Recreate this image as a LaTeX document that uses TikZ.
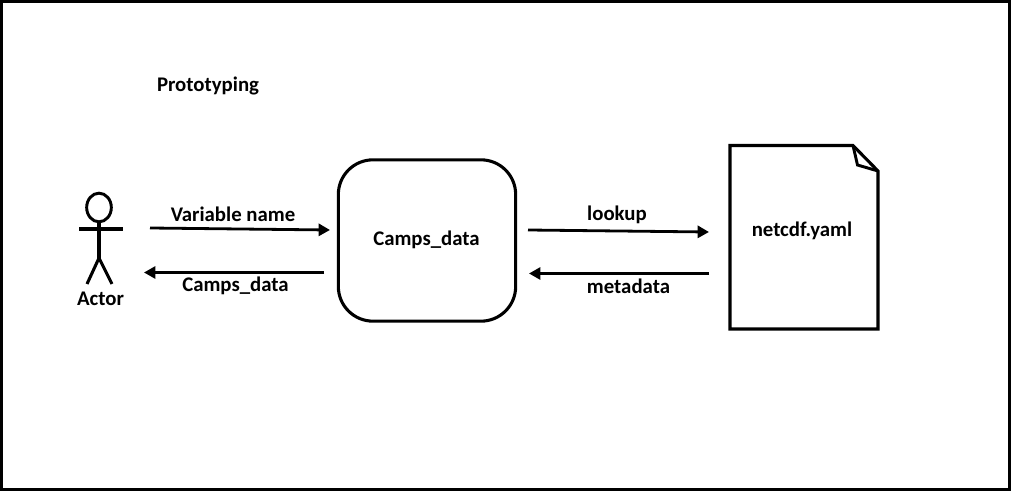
\documentclass[tikz,border=0pt]{standalone}
\usepackage{fontspec}
\setmainfont{Carlito}
\usetikzlibrary{arrows.meta,shapes.geometric}
\tikzset{
  lbl/.style={font=\bfseries\fontsize{15.6}{18}\selectfont,inner sep=0.75pt},
  flow/.style={line width=2.1pt,-{Triangle[length=8.5pt,width=9pt]}},
  stick/.style={line width=2.3pt,line cap=butt},
  outline/.style={line width=2.3pt,line join=miter}
}
\begin{document}
\begin{tikzpicture}[x=0.75pt,y=0.75pt,yscale=-1,xscale=1]
            \useasboundingbox (0,0) rectangle (1011,491);
            %Frame
            \draw [line width=2.2pt] (1.5,1.5) rectangle (1009.5,489.5);
            %Actor
            \node (actorHead) [draw,ellipse,line width=2.2pt,minimum width=18.5pt,minimum height=21.5pt,inner sep=0pt] at (99,207.5) {};
            \coordinate (actorHip) at (99,258);
            \coordinate (armL) at (79,229);
            \coordinate (armR) at (123,229);
            \coordinate (legL) at (87,284);
            \coordinate (legR) at (112,284);
            \draw [stick] (actorHead.south) -- (actorHip);
            \draw [stick] (armL) -- (armR);
            \draw [stick] (legL) -- (actorHip) -- (legR);
            %Camps box
            \node (campsBox) [draw,outline,rounded corners=26pt,minimum width=133pt,minimum height=121pt,inner sep=0pt] at (427,240.5) {};
            %Yaml page
            \coordinate (pageA) at (730,145.5);
            \coordinate (pageB) at (853,145.5);
            \coordinate (pageC) at (878,171);
            \coordinate (pageD) at (878,329);
            \coordinate (pageE) at (730,329);
            \coordinate (pageF) at (857.5,165);
            \draw [outline] (pageA) -- (pageB) -- (pageC) -- (pageD) -- (pageE) -- cycle;
            \draw [line width=2.2pt,line join=miter] (pageB) -- (pageF) -- (pageC);
            %Arrow ends
            \coordinate (a1) at (150,228);
            \coordinate (a2) at (330,230);
            \coordinate (b1) at (324,272.5);
            \coordinate (b2) at (144,272.5);
            \coordinate (c1) at (528,230);
            \coordinate (c2) at (709,232);
            \coordinate (d1) at (709,273.5);
            \coordinate (d2) at (529,273.5);
            \draw [flow] (a1) -- (a2);
            \draw [flow] (b1) -- (b2);
            \draw [flow] (c1) -- (c2);
            \draw [flow] (d1) -- (d2);

            % Text Node
            \node (titleText) [lbl] at (208,85.5) {Prototyping};
            % Text Node
            \node (actorText) [lbl] at (100.5,299) {Actor};
            % Text Node
            \node (varText) [lbl] at (233,214) {Variable name};
            % Text Node
            \node (dataText) [lbl] at (235.5,286) {Camps\_data};
            % Text Node
            \node (campsText) [lbl] at (426.5,240) {Camps\_data};
            % Text Node
            \node (lookupText) [lbl] at (617,215) {lookup};
            % Text Node
            \node (metaText) [lbl] at (628.5,286) {metadata};
            % Text Node
            \node (yamlText) [lbl] at (802,230.5) {netcdf.yaml};
\end{tikzpicture}
\end{document}
